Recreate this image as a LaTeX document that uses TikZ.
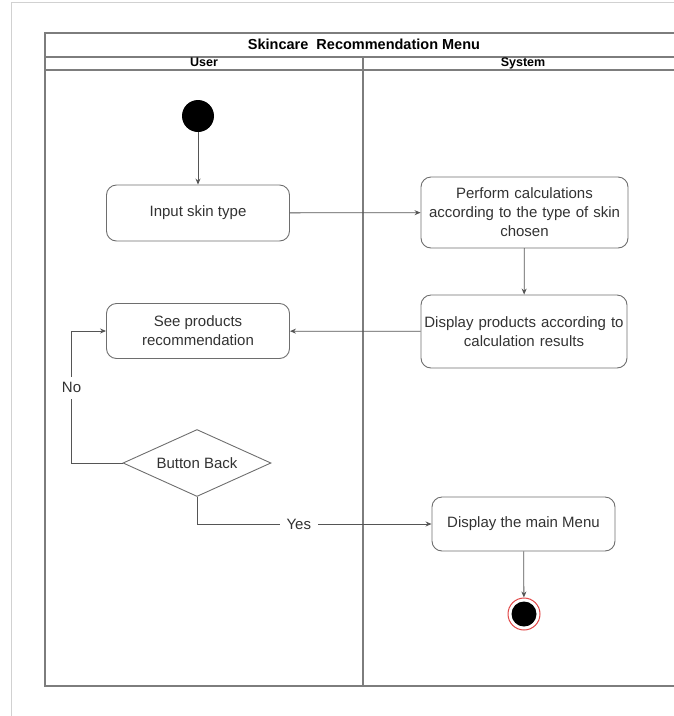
\documentclass[tikz,border=0pt]{standalone}
\usepackage{fontspec}
\setmainfont{Liberation Sans}
\usetikzlibrary{arrows.meta,shapes.geometric,calc}
\definecolor{framegray}{RGB}{125,125,125}
\definecolor{boxgray}{RGB}{110,110,110}
\definecolor{txt}{RGB}{50,50,50}
\definecolor{conngray}{RGB}{85,85,85}
\definecolor{endred}{RGB}{225,70,70}
\tikzset{
  frameline/.style={draw=framegray, line width=1.1pt},
  pageline/.style={draw=black!18, line width=0.6pt},
  hdr/.style={font=\bfseries\fontsize{12.5}{15}\selectfont, text=black, inner sep=0,
    text height=9pt, text depth=2.5pt},
  act/.style={draw=boxgray, rounded corners=10pt, line width=0.9pt, text=txt, align=center,
    font=\fontsize{15}{19}\selectfont, inner sep=0},
  dec/.style={draw=boxgray, diamond, aspect=2.2, line width=0.9pt, text=txt,
    minimum width=148pt, minimum height=67pt, inner sep=0, font=\fontsize{15}{19}\selectfont},
  startnode/.style={circle, fill=black, minimum size=32pt, inner sep=0},
  endnode/.style={circle, minimum size=32pt, inner sep=0, draw=endred, line width=1pt, fill=white,
    path picture={\fill[black] (path picture bounding box.center) circle (12.5pt);}},
  conn/.style={draw=conngray, line width=0.8pt, -{Stealth[length=6pt,width=5pt]}},
  lbl/.style={fill=white, text=txt, font=\fontsize{15}{19}\selectfont, inner xsep=7pt, inner ysep=6pt}
}
\begin{document}
\begin{tikzpicture}[x=1pt,y=-1pt]
\useasboundingbox (0,0) rectangle (674,716);
\clip (0,0) rectangle (674,716);
% page edge
\draw[pageline] (11,716) -- (11,2) -- (674,2);
% swimlane frame
\draw[frameline] (683,33) -- (45,33) -- (45,686) -- (683,686);
\draw[frameline] (45,57) -- (683,57);
\draw[frameline] (45,70) -- (683,70);
\draw[frameline] (363,57) -- (363,686);
\node[hdr, font=\bfseries\fontsize{14.5}{16}\selectfont, text height=11pt, text depth=3pt] (title) at (364,45) {Skincare\ \ Recommendation Menu};
\node[hdr] (laneU) at (204,63.5) {User};
\node[hdr] (laneS) at (523,63.5) {System};
% nodes
\node[startnode] (start) at (198,116) {};
\node[act, minimum width=183pt, minimum height=56pt] (input) at (198,213) {Input skin type};
\node[act, minimum width=207pt, minimum height=71pt, text width=200pt] (calc) at (524.5,212.5)
  {Perform calculations\\according to the type of skin\\chosen};
\node[act, minimum width=206pt, minimum height=73pt, text width=204pt] (disp) at (524,331.5)
  {Display products according to\\calculation results};
\node[act, minimum width=183pt, minimum height=55pt] (see) at (198,331)
  {See products\\recommendation};
\node[dec] (back) at (197,463) {Button Back};
\node[act, minimum width=183pt, minimum height=54pt] (menu) at (523.5,524) {Display the main Menu};
\node[endnode] (end) at (524,614) {};
% connectors
\draw[conn] (start) -- (input);
\draw[conn] (input) -- (calc);
\draw[conn] (calc) -- (disp);
\draw[conn] (disp) -- (see);
\draw[conn] (back.west) -- ++(-51,0) coordinate (nocorner) -- (nocorner |- see.west)
  node[lbl, pos=0.57] {No} -- (see.west);
\draw[conn] (back.south) |- node[lbl, pos=0.717] {Yes} (menu.west);
\draw[conn] (menu) -- (end);
\end{tikzpicture}
\end{document}
